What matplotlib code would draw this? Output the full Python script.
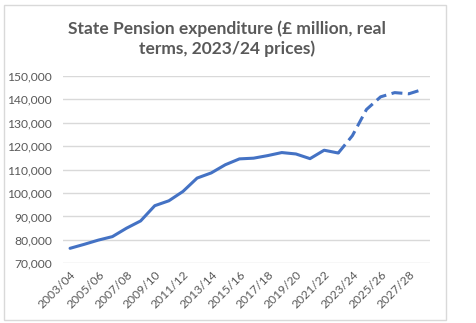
import matplotlib.pyplot as plt
from matplotlib.patches import Rectangle
from matplotlib.ticker import FuncFormatter

# Financial years 2003/04 .. 2028/29
years = [f"{y}/{str(y + 1)[2:]}" for y in range(2003, 2029)]

# outturn (£ million, real terms)
actual = [76400, 78100, 79900, 81400, 85000, 88100, 94600, 96700, 100700, 106400,
          108600, 112100, 114600, 114900, 116000, 117300, 116700, 114700, 118300, 117100]
# forecast, starts at the last outturn year
forecast = [117100, 124500, 135700, 141100, 142900, 142400, 144300]

grey = "#595959"
blue = "#4472C4"
plt.rcParams["font.family"] = ["Lato", "DejaVu Sans"]

fig = plt.figure(figsize=(4.76, 3.23), dpi=100)
fig.patches.append(Rectangle((4 / 476, 3 / 323), 442 / 476, 315 / 323,
                             transform=fig.transFigure, fill=False,
                             edgecolor="#d9d9d9", linewidth=1))

ax = fig.add_axes([63 / 476, 1 - 263.3 / 323, 367 / 476, (263.3 - 76) / 323])

x_act = list(range(len(actual)))
x_fc = list(range(len(actual) - 1, len(actual) - 1 + len(forecast)))
ax.plot(x_act, actual, color=blue, linewidth=2.2, solid_capstyle="round")
ax.plot(x_fc, forecast, color=blue, linewidth=2.2, dashes=(3.6, 1.8))

ax.set_xlim(-0.5, len(years) - 0.5)
ax.set_ylim(70000, 150000)
ax.set_yticks(range(70000, 150001, 10000))
ax.yaxis.set_major_formatter(FuncFormatter(lambda v, p: f"{int(v):,}"))
ax.set_xticks(range(0, len(years), 2))
ax.set_xticklabels(years[::2], rotation=45, ha="right", rotation_mode="anchor")

ax.grid(axis="y", color="#d9d9d9", linewidth=1)
ax.set_axisbelow(True)
for s in ax.spines.values():
    s.set_visible(False)
ax.tick_params(length=0, colors=grey, labelsize=8.7)
ax.tick_params(axis="y", pad=8)
ax.tick_params(axis="x", pad=4)

fig.text(0.477, 1 - 39 / 323, "State Pension expenditure (£ million, real\nterms, 2023/24 prices)",
         ha="center", va="center", fontsize=12.5, fontweight="bold", color=grey,
         linespacing=1.25)

fig.savefig("out.png", dpi=100)
